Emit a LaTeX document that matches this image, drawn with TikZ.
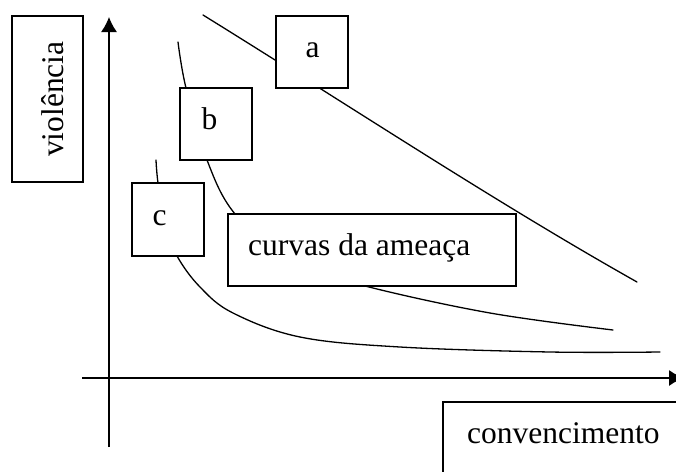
\documentclass[tikz,border=0pt]{standalone}
\usepackage{fontspec}
\setmainfont{Liberation Serif}
\usetikzlibrary{arrows.meta}
\tikzset{
  curve/.style={line width=1.3pt, line cap=round},
  axis/.style={line width=1.3pt, -{Latex[length=15pt,width=16pt]}},
  box/.style={draw, line width=1.6pt, fill=white, inner sep=0pt},
  lbl/.style={inner sep=0pt, anchor=base west, font=\fontsize{31.5}{38}\selectfont}
}
\begin{document}
\begin{tikzpicture}[x=1pt,y=-1pt]
\useasboundingbox (0,0) rectangle (676,471);
\clip (0,0) rectangle (676,471);
% axes
\coordinate (ybot) at (109,447);
\coordinate (ytop) at (109,17);
\coordinate (xl) at (82,378);
\coordinate (xr) at (684,378);
\draw[axis] (ybot) -- (ytop);
\draw[axis] (xl) -- (xr);
% curves
\draw[curve] (203,15) .. controls (350,106) and (495,202) .. (637,282);
\draw[curve] plot[smooth, tension=0.6] coordinates {(178,42) (186,88) (207,160) (235,214) (290,262) (365,286) (490,313) (613,330)};
\draw[curve] plot[smooth, tension=0.6] coordinates {(156,160) (158,183) (165,225) (177,256) (200,287) (233,313) (300,337) (400,347) (550,352) (660,352)};
% boxes
\node[box, minimum width=71pt, minimum height=166pt] (bv) at (47.5,99) {};
\node[box, minimum width=72pt, minimum height=72pt] (ba) at (312,52) {};
\node[box, minimum width=72pt, minimum height=72pt] (bb) at (216,124) {};
\node[box, minimum width=72pt, minimum height=73pt] (bc) at (168,219.5) {};
\node[box, minimum width=288pt, minimum height=72pt] (bk) at (372,250) {};
\node[box, minimum width=241pt, minimum height=100pt] (bx) at (563.5,452) {};
% labels
\node[lbl, rotate=90] (tv) at (63,157) {violência};
\node[lbl] (ta) at (305.5,57) {a};
\node[lbl] (tb) at (201.5,129) {b};
\node[lbl] (tc) at (152.5,225) {c};
\node[lbl] (tk) at (248,255) {curvas da ameaça};
\node[lbl] (tx) at (467,443) {convencimento};
\end{tikzpicture}
\end{document}
